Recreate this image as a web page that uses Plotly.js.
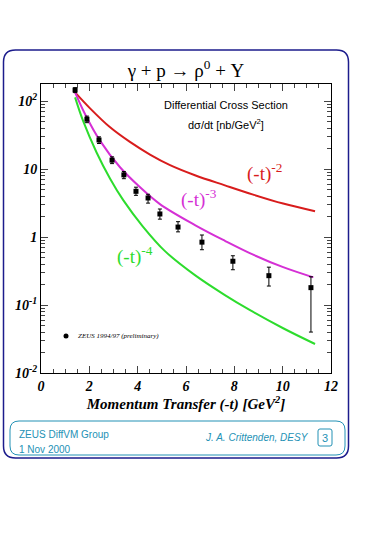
<!DOCTYPE html>
<html><head><meta charset="utf-8">
<script src="https://cdn.plot.ly/plotly-3.0.1.min.js"></script>
<style>html,body{margin:0;padding:0;background:#fff;}#chart{width:365px;height:535px;}</style>
</head><body><div id="chart"></div>
<script>
// ---- data ----
const tData   = [1.41, 1.90, 2.40, 2.94, 3.43, 3.93, 4.43, 4.92, 5.67, 6.66, 7.94, 9.43, 11.17];
const xsData  = [145, 54, 26.7, 13.5, 8.2, 4.7, 3.75, 2.18, 1.40, 0.84, 0.44, 0.27, 0.18];
const errUp   = [12, 6, 3, 1.6, 1.0, 0.7, 0.5, 0.4, 0.28, 0.23, 0.09, 0.09, 0.08];
const errDown = [12, 6, 3, 1.5, 1.0, 0.6, 0.6, 0.35, 0.21, 0.19, 0.11, 0.08, 0.14];

const tM2 = [1.41, 2.03, 2.86, 3.68, 4.51, 5.34, 6.37, 7.61, 8.78, 10.02, 11.34];
const vM2 = [134, 78, 41, 25, 16.3, 11.4, 8.1, 5.75, 4.2, 3.1, 2.39];
const tM3 = [1.41, 1.82, 2.44, 3.27, 4.10, 4.92, 6.37, 7.61, 8.78, 10.02, 11.27];
const vM3 = [134, 64.4, 26.1, 10.6, 5.38, 3.05, 1.5, 0.88, 0.55, 0.36, 0.255];
const tM4 = [1.41, 1.75, 2.30, 2.86, 3.41, 4.20, 5.13, 6.37, 7.61, 8.65, 10.02, 11.34];
const vM4 = [113, 50, 17.5, 7.2, 3.45, 1.45, 0.62, 0.275, 0.14, 0.084, 0.0455, 0.0267];

const yTickVals = [0.01, 0.1, 1, 10, 100];
const yTickText = ['10<sup>-2</sup>', '10<sup>-1</sup>', '1', '10', '10<sup>2</sup>'];
const xTickVals = [0, 2, 4, 6, 8, 10, 12];
const xTickText = ['0', '2', '4', '6', '8', '10', '12'];

// ---- geometry helpers (pixel -> paper) ----
const W = 365, H = 535, L = 41, R = 331, T = 84, B = 373;
const px = x => (x - L) / (R - L);
const py = y => (B - y) / (B - T);
function rrect(x0, y0, x1, y1, r) {
  const p = (x, y) => px(x) + ',' + py(y);
  return 'M' + p(x0 + r, y0) + ' L' + p(x1 - r, y0) + ' Q' + p(x1, y0) + ' ' + p(x1, y0 + r) +
    ' L' + p(x1, y1 - r) + ' Q' + p(x1, y1) + ' ' + p(x1 - r, y1) +
    ' L' + p(x0 + r, y1) + ' Q' + p(x0, y1) + ' ' + p(x0, y1 - r) +
    ' L' + p(x0, y0 + r) + ' Q' + p(x0, y0) + ' ' + p(x0 + r, y0) + ' Z';
}
// minor log tick positions (2..9 per decade)
const yMinor = [];
for (let k = -2; k <= 2; k++) for (let m = 2; m <= 9; m++) yMinor.push(m * Math.pow(10, k));

const serif = 'Liberation Serif, Times New Roman, serif';
const sans = 'Liberation Sans, Arial, sans-serif';
const teal = '#2391b5';

const traces = [
  {x: tM2, y: vM2, mode: 'lines', line: {color: '#d81c1c', width: 2, shape: 'spline', smoothing: 1}, hoverinfo: 'skip'},
  {x: tM3, y: vM3, mode: 'lines', line: {color: '#d530d5', width: 2, shape: 'spline', smoothing: 1}, hoverinfo: 'skip'},
  {x: tM4, y: vM4, mode: 'lines', line: {color: '#2ddc2d', width: 2, shape: 'spline', smoothing: 1}, hoverinfo: 'skip'},
  {x: tData, y: xsData, mode: 'markers',
   marker: {color: '#000', size: 5, symbol: 'square'},
   error_y: {type: 'data', symmetric: false, array: errUp, arrayminus: errDown, color: '#000', thickness: 1, width: 2}}
];

function ann(text, x, y, font, xa) {
  return {text: text, x: px(x), y: py(y), xref: 'paper', yref: 'paper', xanchor: xa || 'center', yanchor: 'middle',
    showarrow: false, font: font};
}

const layout = {
  width: W, height: H, showlegend: false,
  paper_bgcolor: '#fff', plot_bgcolor: '#fff',
  margin: {l: L, r: W - R, t: T, b: H - B, pad: 0},
  xaxis: {range: [0, 12], tickvals: xTickVals, ticktext: xTickText, ticks: 'inside', ticklen: 7,
    mirror: 'ticks', showline: true, linecolor: '#000', linewidth: 1, showgrid: false, zeroline: false,
    tickfont: {family: serif, size: 14, color: '#000', weight: 'bold', style: 'italic'},
    minor: {tickmode: 'linear', tick0: 0, dtick: 0.5, ticks: 'inside', ticklen: 4, showgrid: false},
    title: {text: 'Momentum Transfer (-t) [GeV<sup>2</sup>]', standoff: 2,
      font: {family: serif, size: 15, color: '#000', weight: 'bold', style: 'italic'}}},
  yaxis: {type: 'log', range: [-2, 2.25], tickvals: yTickVals, ticktext: yTickText, ticks: 'inside', ticklen: 7,
    mirror: 'ticks', showline: true, linecolor: '#000', linewidth: 1, showgrid: false, zeroline: false,
    tickfont: {family: serif, size: 14, color: '#000', weight: 'bold', style: 'italic'},
    minor: {tickmode: 'array', tickvals: yMinor, ticks: 'inside', ticklen: 4, showgrid: false}},
  title: {text: 'γ + p → ρ<sup>0</sup> + Y', x: 0.5, xref: 'paper', xanchor: 'center', y: 1 - 70 / H, yanchor: 'middle',
    font: {family: serif, size: 19, color: '#000'}},
  shapes: [
    {type: 'path', xref: 'paper', yref: 'paper', path: rrect(3.5, 50, 348.5, 458, 12), line: {color: '#1c1c8c', width: 1.5}},
    {type: 'path', xref: 'paper', yref: 'paper', path: rrect(10, 421, 345, 455, 9), line: {color: teal, width: 1}},
    {type: 'path', xref: 'paper', yref: 'paper', path: rrect(318, 429, 332, 446, 2), line: {color: teal, width: 1}},
    {type: 'circle', xref: 'paper', yref: 'paper', x0: px(63.5), x1: px(68.5), y0: py(333.5), y1: py(338.5), fillcolor: '#000', line: {width: 0}}
  ],
  annotations: [
    ann('Differential Cross Section', 226, 105, {family: sans, size: 11, color: '#000'}),
    ann('dσ/dt [nb/GeV<sup>2</sup>]', 226, 124, {family: sans, size: 11, color: '#000'}),
    ann('(-t)<sup>-2</sup>', 264, 172, {family: serif, size: 19, color: '#d81c1c'}),
    ann('(-t)<sup>-3</sup>', 199, 198, {family: serif, size: 19, color: '#d530d5'}),
    ann('(-t)<sup>-4</sup>', 135, 255, {family: serif, size: 19, color: '#2ddc2d'}),
    ann('<i>ZEUS 1994/97 (preliminary)</i>', 76, 336, {family: serif, size: 7, color: '#000'}, 'left'),
    ann('ZEUS DiffVM Group', 17, 434, {family: sans, size: 10, color: teal}, 'left'),
    ann('1 Nov 2000', 17, 449, {family: sans, size: 10, color: teal}, 'left'),
    ann('<i>J. A. Crittenden, DESY</i>', 311, 437, {family: sans, size: 10, color: teal}, 'right'),
    ann('3', 325, 437.5, {family: sans, size: 11, color: teal})
  ]
};

Plotly.newPlot('chart', traces, layout, {staticPlot: true, displayModeBar: false});
</script></body></html>
